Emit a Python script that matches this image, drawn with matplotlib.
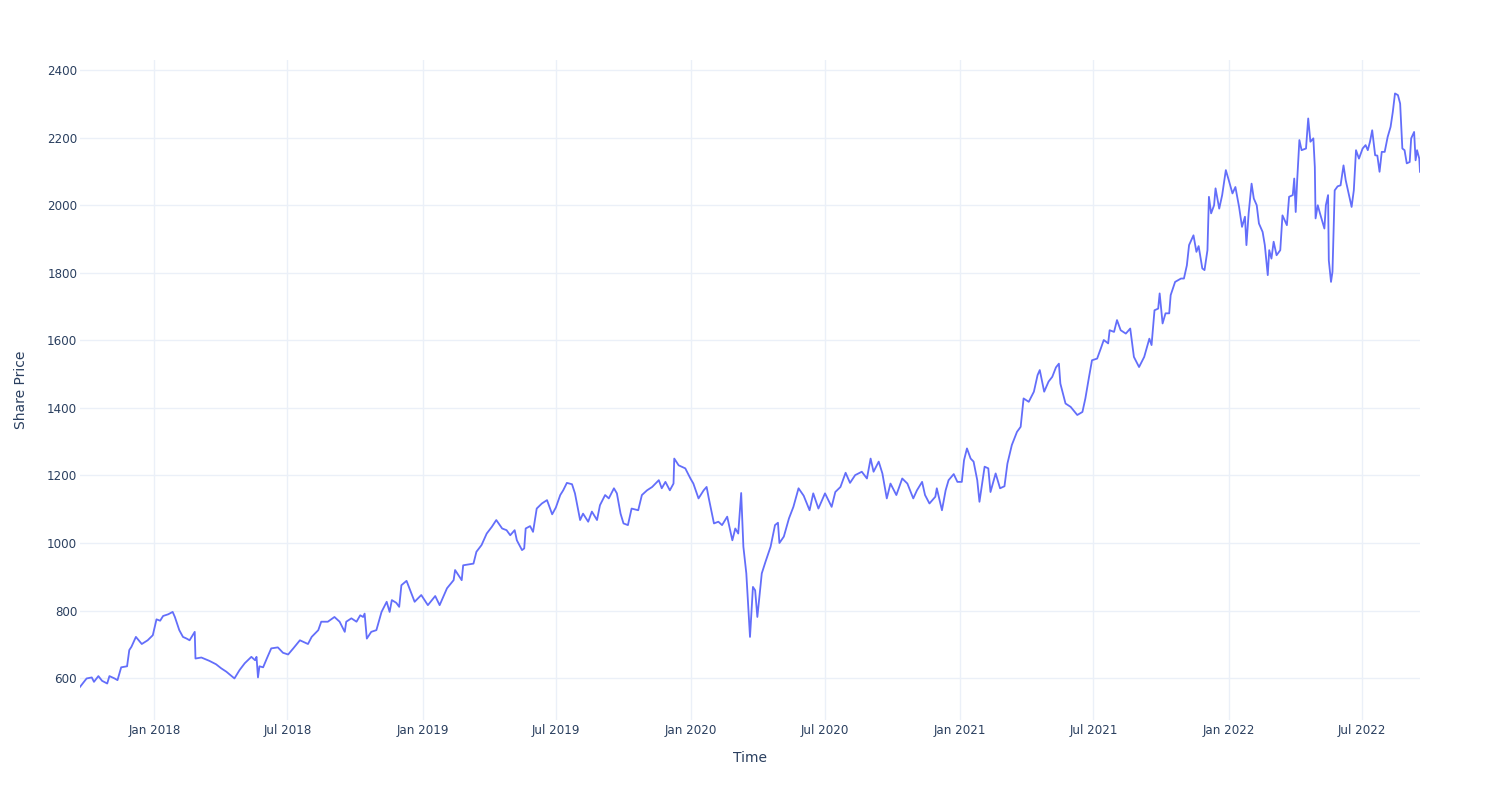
import matplotlib
matplotlib.use("Agg")
import matplotlib.pyplot as plt
import matplotlib.dates as mdates
import pandas as pd

# Share price (date, price)
dates = [
    "2017-09-22", "2017-10-01", "2017-10-08", "2017-10-11", "2017-10-17", "2017-10-22",
    "2017-10-29", "2017-11-01", "2017-11-08", "2017-11-12", "2017-11-17", "2017-11-25",
    "2017-11-28", "2017-12-01", "2017-12-07", "2017-12-15", "2017-12-23", "2017-12-30",
    "2018-01-04", "2018-01-09", "2018-01-13", "2018-01-20", "2018-01-26", "2018-01-29",
    "2018-02-04", "2018-02-09", "2018-02-14", "2018-02-18", "2018-02-25", "2018-02-26",
    "2018-03-06", "2018-03-17", "2018-03-26", "2018-04-02", "2018-04-09", "2018-04-20",
    "2018-04-27", "2018-05-04", "2018-05-13", "2018-05-18", "2018-05-20", "2018-05-22",
    "2018-05-24", "2018-05-29", "2018-06-03", "2018-06-09", "2018-06-18", "2018-06-25",
    "2018-07-02", "2018-07-09", "2018-07-18", "2018-07-29", "2018-08-03", "2018-08-12",
    "2018-08-16", "2018-08-25", "2018-09-03", "2018-09-10", "2018-09-17", "2018-09-19",
    "2018-09-26", "2018-10-03", "2018-10-08", "2018-10-12", "2018-10-14", "2018-10-17",
    "2018-10-23", "2018-10-30", "2018-11-06", "2018-11-13", "2018-11-17", "2018-11-20",
    "2018-11-26", "2018-11-30", "2018-12-03", "2018-12-10", "2018-12-15", "2018-12-21",
    "2018-12-30", "2019-01-08", "2019-01-18", "2019-01-24", "2019-02-03", "2019-02-12",
    "2019-02-14", "2019-02-23", "2019-02-25", "2019-03-11", "2019-03-15", "2019-03-22",
    "2019-03-29", "2019-04-05", "2019-04-11", "2019-04-19", "2019-04-25", "2019-04-30",
    "2019-05-06", "2019-05-09", "2019-05-16", "2019-05-19", "2019-05-21", "2019-05-27",
    "2019-05-31", "2019-06-05", "2019-06-12", "2019-06-19", "2019-06-26", "2019-07-01",
    "2019-07-07", "2019-07-11", "2019-07-16", "2019-07-23", "2019-07-27", "2019-08-03",
    "2019-08-07", "2019-08-14", "2019-08-19", "2019-08-26", "2019-08-30", "2019-09-06",
    "2019-09-11", "2019-09-18", "2019-09-22", "2019-09-27", "2019-10-01", "2019-10-07",
    "2019-10-12", "2019-10-21", "2019-10-26", "2019-11-02", "2019-11-09", "2019-11-18",
    "2019-11-22", "2019-11-27", "2019-12-03", "2019-12-08", "2019-12-09", "2019-12-15",
    "2019-12-24", "2019-12-31", "2020-01-04", "2020-01-11", "2020-01-18", "2020-01-22",
    "2020-01-25", "2020-02-01", "2020-02-07", "2020-02-12", "2020-02-19", "2020-02-26",
    "2020-03-01", "2020-03-05", "2020-03-09", "2020-03-12", "2020-03-16", "2020-03-21",
    "2020-03-25", "2020-03-28", "2020-03-31", "2020-04-06", "2020-04-11", "2020-04-18",
    "2020-04-24", "2020-04-28", "2020-04-30", "2020-05-06", "2020-05-13", "2020-05-19",
    "2020-05-26", "2020-06-02", "2020-06-10", "2020-06-15", "2020-06-22", "2020-07-01",
    "2020-07-10", "2020-07-15", "2020-07-22", "2020-07-29", "2020-08-04", "2020-08-11",
    "2020-08-20", "2020-08-27", "2020-09-01", "2020-09-05", "2020-09-12", "2020-09-17",
    "2020-09-23", "2020-09-28", "2020-10-06", "2020-10-14", "2020-10-21", "2020-10-29",
    "2020-11-03", "2020-11-10", "2020-11-14", "2020-11-20", "2020-11-28", "2020-11-30",
    "2020-12-07", "2020-12-12", "2020-12-16", "2020-12-23", "2020-12-28", "2021-01-03",
    "2021-01-06", "2021-01-10", "2021-01-15", "2021-01-19", "2021-01-24", "2021-01-27",
    "2021-02-03", "2021-02-08", "2021-02-11", "2021-02-18", "2021-02-24", "2021-03-02",
    "2021-03-06", "2021-03-12", "2021-03-19", "2021-03-24", "2021-03-28", "2021-04-04",
    "2021-04-11", "2021-04-16", "2021-04-19", "2021-04-25", "2021-05-01", "2021-05-06",
    "2021-05-11", "2021-05-15", "2021-05-17", "2021-05-24", "2021-05-31", "2021-06-09",
    "2021-06-16", "2021-06-20", "2021-06-25", "2021-06-29", "2021-07-06", "2021-07-11",
    "2021-07-15", "2021-07-21", "2021-07-23", "2021-07-29", "2021-08-02", "2021-08-07",
    "2021-08-14", "2021-08-20", "2021-08-25", "2021-09-01", "2021-09-08", "2021-09-15",
    "2021-09-18", "2021-09-22", "2021-09-27", "2021-09-29", "2021-10-03", "2021-10-07",
    "2021-10-12", "2021-10-14", "2021-10-20", "2021-10-28", "2021-11-01", "2021-11-05",
    "2021-11-08", "2021-11-14", "2021-11-18", "2021-11-21", "2021-11-26", "2021-11-29",
    "2021-12-03", "2021-12-05", "2021-12-08", "2021-12-12", "2021-12-14", "2021-12-19",
    "2021-12-23", "2021-12-28", "2022-01-01", "2022-01-06", "2022-01-10", "2022-01-15",
    "2022-01-19", "2022-01-23", "2022-01-25", "2022-01-28", "2022-02-01", "2022-02-04",
    "2022-02-08", "2022-02-11", "2022-02-16", "2022-02-19", "2022-02-23", "2022-02-25",
    "2022-02-28", "2022-03-03", "2022-03-07", "2022-03-12", "2022-03-15", "2022-03-21",
    "2022-03-24", "2022-03-29", "2022-03-31", "2022-04-02", "2022-04-04", "2022-04-07",
    "2022-04-10", "2022-04-16", "2022-04-19", "2022-04-22", "2022-04-26", "2022-04-28",
    "2022-04-29", "2022-05-02", "2022-05-05", "2022-05-11", "2022-05-13", "2022-05-16",
    "2022-05-17", "2022-05-20", "2022-05-22", "2022-05-25", "2022-05-29", "2022-06-02",
    "2022-06-06", "2022-06-09", "2022-06-14", "2022-06-17", "2022-06-20", "2022-06-23",
    "2022-06-27", "2022-07-02", "2022-07-06", "2022-07-09", "2022-07-12", "2022-07-15",
    "2022-07-19", "2022-07-22", "2022-07-25", "2022-07-28", "2022-08-01", "2022-08-05",
    "2022-08-09", "2022-08-12", "2022-08-15", "2022-08-19", "2022-08-22", "2022-08-25",
    "2022-08-28", "2022-08-31", "2022-09-04", "2022-09-06", "2022-09-10", "2022-09-12",
    "2022-09-14", "2022-09-17", "2022-09-18",
]
prices = [
    574, 599, 602, 589, 606, 592,
    584, 606, 599, 594, 632, 635,
    683, 693, 722, 701, 712, 727,
    774, 770, 784, 789, 796, 781,
    742, 722, 717, 712, 737, 658,
    661, 651, 641, 629, 619, 599,
    624, 644, 663, 653, 663, 602,
    635, 632, 658, 688, 691, 675,
    670, 688, 712, 701, 722, 742,
    767, 767, 781, 767, 737, 767,
    777, 767, 786, 781, 791, 717,
    737, 742, 796, 826, 796, 831,
    823, 811, 875, 888, 860, 826,
    846, 816, 843, 816, 866, 890,
    920, 890, 934, 939, 974, 994,
    1028, 1048, 1068, 1043, 1038, 1023,
    1038, 1008, 979, 984, 1043, 1050,
    1033, 1102, 1117, 1127, 1085, 1105,
    1142, 1156, 1178, 1174, 1147, 1068,
    1087, 1063, 1093, 1068, 1112, 1142,
    1132, 1162, 1147, 1087, 1058, 1053,
    1102, 1097, 1142, 1156, 1166, 1186,
    1162, 1181, 1156, 1176, 1250, 1230,
    1221, 1191, 1176, 1132, 1156, 1166,
    1132, 1058, 1063, 1053, 1078, 1008,
    1043, 1028, 1148, 989, 910, 722,
    870, 860, 781, 910, 944, 989,
    1053, 1060, 1000, 1019, 1073, 1107,
    1162, 1140, 1097, 1147, 1102, 1147,
    1107, 1151, 1166, 1208, 1178, 1201,
    1211, 1191, 1250, 1211, 1241, 1206,
    1132, 1176, 1142, 1191, 1176, 1132,
    1156, 1181, 1142, 1117, 1137, 1162,
    1097, 1156, 1186, 1204, 1181, 1181,
    1245, 1280, 1250, 1241, 1186, 1122,
    1226, 1221, 1151, 1206, 1162, 1168,
    1235, 1290, 1329, 1344, 1428, 1418,
    1448, 1497, 1512, 1448, 1478, 1492,
    1520, 1531, 1472, 1413, 1403, 1379,
    1388, 1428, 1492, 1541, 1546, 1576,
    1601, 1591, 1630, 1625, 1660, 1630,
    1620, 1635, 1551, 1521, 1551, 1605,
    1586, 1689, 1694, 1739, 1650, 1680,
    1680, 1734, 1773, 1783, 1783, 1822,
    1882, 1911, 1862, 1879, 1813, 1808,
    1867, 2025, 1976, 2000, 2050, 1990,
    2030, 2104, 2074, 2035, 2054, 1995,
    1936, 1966, 1882, 1976, 2064, 2020,
    2000, 1946, 1921, 1882, 1793, 1867,
    1842, 1892, 1852, 1867, 1970, 1941,
    2025, 2030, 2079, 1980, 2074, 2193,
    2163, 2168, 2257, 2188, 2198, 2113,
    1961, 2000, 1976, 1931, 2000, 2030,
    1837, 1773, 1803, 2044, 2056, 2059,
    2118, 2074, 2025, 1995, 2044, 2163,
    2138, 2168, 2178, 2163, 2188, 2222,
    2148, 2147, 2099, 2158, 2158, 2202,
    2232, 2276, 2331, 2326, 2301, 2168,
    2163, 2124, 2128, 2198, 2217, 2133,
    2163, 2138, 2099,
]

df = pd.DataFrame({"Time": pd.to_datetime(dates), "Share Price": prices})

text_color = "#2a3f5f"
grid_color = "#ebf0f8"

fig = plt.figure(figsize=(15, 8), dpi=100)
ax = fig.add_axes([80 / 1500, 80 / 800, 1340 / 1500, 660 / 800])

ax.plot(df["Time"], df["Share Price"], color="#636efa", linewidth=1.3)

ax.set_xlim(df["Time"].min(), df["Time"].max())
ax.set_ylim(476, 2430)

ax.set_yticks(range(600, 2401, 200))
ax.xaxis.set_major_locator(mdates.MonthLocator(bymonth=[1, 7]))
ax.xaxis.set_major_formatter(mdates.DateFormatter("%b %Y"))

ax.grid(True, color=grid_color, linewidth=1)
ax.set_axisbelow(True)
for s in ax.spines.values():
    s.set_visible(False)

ax.tick_params(axis="both", length=0, labelsize=8.6, labelcolor=text_color)
ax.tick_params(axis="y", pad=2)
ax.tick_params(axis="x", pad=3)

ax.set_xlabel("Time", fontsize=10, color=text_color, labelpad=10)
ax.set_ylabel("Share Price", fontsize=10, color=text_color, labelpad=14)

plt.savefig("out.png", dpi=100)
